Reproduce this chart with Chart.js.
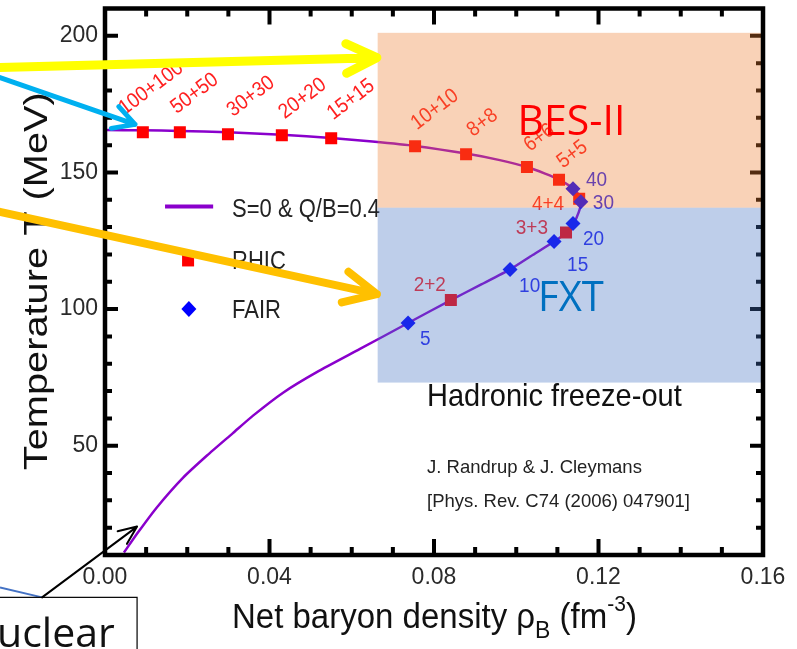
<!DOCTYPE html>
<html>
<head>
<meta charset="utf-8">
<script src="https://cdn.jsdelivr.net/npm/chart.js@4.4.1/dist/chart.umd.min.js"></script>
<style>
  html, body { margin: 0; padding: 0; background: #fff; }
  canvas { display: block; }
</style>
</head>
<body>
<canvas id="chart" width="797" height="649"></canvas>
<script>
/* ---------- data ---------- */
// freeze-out curve S=0 & Q/B=0.4, traced in path order
const curveRho = [0.0000, 0.0092, 0.0182, 0.0299, 0.0430, 0.0550, 0.0650, 0.0754, 0.0878, 0.0960, 0.1026, 0.1070, 0.1104, 0.1138, 0.1153, 0.1158, 0.1152, 0.1140, 0.1121, 0.1092, 0.1040, 0.0985, 0.0915, 0.0841, 0.0737, 0.0620, 0.0516, 0.0433, 0.0360, 0.0311, 0.0248, 0.0190, 0.0126, 0.0080, 0.0046];
const curveT   = [165.5, 165.4, 165.2, 164.7, 163.8, 162.6, 161.3, 159.7, 156.9, 154.5, 152.0, 149.6, 147.4, 144.2, 141.5, 139.3, 135.5, 131.5, 128.0, 124.7, 119.8, 114.5, 109.0, 103.3, 94.9, 85.4, 77.0, 69.4, 61.0, 54.6, 46.4, 38.3, 27.4, 18.2, 10.9];

// RHIC collider energies
const rhicLabels = ['100+100', '50+50', '30+30', '20+20', '15+15', '10+10', '8+8', '6+6', '5+5', '4+4', '3+3', '2+2'];
const rhicRho    = [0.0092, 0.0182, 0.0299, 0.0430, 0.0550, 0.0754, 0.0878, 0.1026, 0.1104, 0.1153, 0.1121, 0.0841];
const rhicT      = [164.7, 164.7, 164.0, 163.6, 162.5, 159.6, 156.7, 152.0, 147.3, 140.4, 128.0, 103.3];

// FAIR fixed-target energies
const fairLabels = ['40', '30', '20', '15', '10', '5'];
const fairRho    = [0.1138, 0.1157, 0.1138, 0.1092, 0.0985, 0.0737];
const fairT      = [144.0, 139.3, 131.3, 124.7, 114.5, 94.9];

// shaded regions (rho range, T range)
const besRho = [0.0663, 0.16], besT = [137.1, 201.1];
const fxtRho = [0.0663, 0.16], fxtT = [73.1, 137.1];

const xTickLabels = ['0.00', '0.04', '0.08', '0.12', '0.16'];
const yTickLabels = ['50', '100', '150', '200'];

/* ---------- layout / style ---------- */
const FONT = "'Liberation Sans', Arial, Helvetica, sans-serif";
const SLIDE_FONT = "'Open Sans', 'Noto Sans', sans-serif";
const PURPLE = '#8A00CC';

// label offsets from the marker: [dx, dy, rotation(deg), align]
const rhicLabelPos = [
  [-18, -17, -37, 'left'], [-3, -18, -37, 'left'], [5, -17, -37, 'left'], [3, -16, -37, 'left'],
  [2, -18, -37, 'left'], [2, -16, -37, 'left'], [7, -17, -37, 'left'], [3, -15, -37, 'left'],
  [4, -11, -37, 'left'], [-15, 11, 0, 'right'], [-18, 1, 0, 'right'], [-5, -9, 0, 'right']
];
const fairLabelPos = [[13, -3], [12, 7], [10, 21], [13, 29], [9, 23], [12, 22]];

function toXY(xs, ys) { return xs.map((x, i) => ({ x: x, y: ys[i] })); }

function stext(ctx, str, x, y, size, color, opts) {
  opts = opts || {};
  ctx.save();
  ctx.translate(x, y);
  if (opts.rot) ctx.rotate(opts.rot * Math.PI / 180);
  ctx.scale(opts.sx || 1, opts.sy || 1);
  ctx.font = (opts.weight || '') + ' ' + size + 'px ' + (opts.font || FONT);
  ctx.fillStyle = color;
  ctx.textAlign = opts.align || 'left';
  ctx.textBaseline = opts.baseline || 'alphabetic';
  ctx.fillText(str, 0, 0);
  ctx.restore();
}

function arrow(ctx, x0, y0, x1, y1, color, width, head, spread) {
  const ang = Math.atan2(y1 - y0, x1 - x0);
  ctx.save();
  ctx.strokeStyle = color;
  ctx.lineWidth = width;
  ctx.lineCap = 'round';
  ctx.lineJoin = 'round';
  ctx.beginPath();
  ctx.moveTo(x0, y0);
  ctx.lineTo(x1, y1);
  ctx.moveTo(x1 - head * Math.cos(ang - spread), y1 - head * Math.sin(ang - spread));
  ctx.lineTo(x1, y1);
  ctx.lineTo(x1 - head * Math.cos(ang + spread), y1 - head * Math.sin(ang + spread));
  ctx.stroke();
  ctx.restore();
}

const decor = {
  id: 'decor',
  afterDatasetsDraw(chart) {
    const ctx = chart.ctx, xs = chart.scales.x, ys = chart.scales.y, a = chart.chartArea;
    const px = v => xs.getPixelForValue(v), py = v => ys.getPixelForValue(v);

    // point labels
    rhicLabels.forEach((lab, i) => {
      const p = rhicLabelPos[i];
      stext(ctx, lab, px(rhicRho[i]) + p[0], py(rhicT[i]) + p[1], 19, '#FF2020', { rot: p[2], align: p[3], sy: 1.1 });
    });
    fairLabels.forEach((lab, i) => {
      const p = fairLabelPos[i];
      stext(ctx, lab, px(fairRho[i]) + p[0], py(fairT[i]) + p[1], 19, '#2424F0', { sy: 1.1 });
    });

    // legend
    const ltx = px(0.0309);
    const yLine = py(137.5), yRhic = py(117.8), yFair = py(100);
    ctx.save();
    ctx.strokeStyle = PURPLE; ctx.lineWidth = 4;
    ctx.beginPath(); ctx.moveTo(px(0.0146), yLine); ctx.lineTo(px(0.0263), yLine); ctx.stroke();
    ctx.fillStyle = '#FF0000';
    const sqx = px(0.0202);
    ctx.fillRect(sqx - 6, yRhic - 6, 12, 12);
    ctx.fillStyle = '#0000FF';
    const dmx = px(0.0204);
    ctx.beginPath(); ctx.moveTo(dmx, yFair - 8); ctx.lineTo(dmx + 7.5, yFair); ctx.lineTo(dmx, yFair + 8); ctx.lineTo(dmx - 7.5, yFair); ctx.closePath(); ctx.fill();
    ctx.restore();
    stext(ctx, 'S=0 & Q/B=0.4', ltx, yLine + 10, 22, '#222', { sy: 1.15 });
    stext(ctx, 'RHIC', ltx, yRhic + 9, 22, '#222', { sy: 1.15 });
    stext(ctx, 'FAIR', ltx, yFair + 9, 22, '#222', { sy: 1.15 });

    // ticks (inward) on all four sides
    ctx.save();
    ctx.strokeStyle = '#000';
    ctx.lineWidth = 4;
    ctx.beginPath();
    for (let k = 1; k < 16; k++) {
      const x = px(k / 100), len = k % 4 === 0 ? 16 : 8;
      ctx.moveTo(x, a.bottom); ctx.lineTo(x, a.bottom - len);
      ctx.moveTo(x, a.top); ctx.lineTo(x, a.top + len);
    }
    for (let t = 20; t <= 200; t += 10) {
      const y = py(t), len = t % 50 === 0 ? 13 : 7;
      ctx.moveTo(a.left, y); ctx.lineTo(a.left + len, y);
      ctx.moveTo(a.right, y); ctx.lineTo(a.right - len, y);
    }
    ctx.stroke();
    ctx.restore();

    // shaded regions (semi-transparent, on top)
    ctx.save();
    ctx.fillStyle = 'rgba(237,125,49,0.35)';
    ctx.fillRect(px(besRho[0]), py(besT[1]), px(besRho[1]) - px(besRho[0]) - 2, py(besT[0]) - py(besT[1]));
    ctx.fillStyle = 'rgba(68,114,196,0.35)';
    ctx.fillRect(px(fxtRho[0]), py(fxtT[1]), px(fxtRho[1]) - px(fxtRho[0]) - 2, py(fxtT[0]) - py(fxtT[1]));
    ctx.restore();

    // frame
    ctx.save();
    ctx.strokeStyle = '#000';
    ctx.lineWidth = 4.5;
    ctx.strokeRect(a.left, a.top, a.right - a.left, a.bottom - a.top);
    ctx.restore();

    // region labels
    stext(ctx, 'BES-II', px(0.1003), py(163.6), 41, '#FF0000', { font: SLIDE_FONT, sy: 1.03 });
    stext(ctx, 'FXT', px(0.1053), py(99.3), 40, '#0070C0', { font: SLIDE_FONT, sy: 1.05 });

    // annotations inside the plot
    stext(ctx, 'Hadronic freeze-out', px(0.0783), py(64.7), 29, '#111', { sy: 1.08 });
    stext(ctx, 'J. Randrup & J. Cleymans', px(0.0783), py(40), 18.5, '#222');
    stext(ctx, '[Phys. Rev. C74 (2006) 047901]', px(0.0783), py(27.5), 18.5, '#222');

    // axis titles
    ctx.save();
    ctx.translate(47, py(110.2));
    ctx.rotate(-Math.PI / 2);
    ctx.scale(1.17, 1);
    ctx.font = '34px ' + FONT;
    ctx.fillStyle = '#111';
    ctx.textAlign = 'center';
    ctx.fillText('Temperature T (MeV)', 0, 0);
    ctx.restore();

    ctx.save();
    let tx = 232;
    const base = 628;
    const part = (s, size, dy) => {
      ctx.font = size + 'px ' + FONT;
      ctx.save(); ctx.translate(tx, base + dy); ctx.scale(1, 1.08);
      ctx.fillStyle = '#111'; ctx.textAlign = 'left'; ctx.fillText(s, 0, 0); ctx.restore();
      tx += ctx.measureText(s).width;
    };
    part('Net baryon density \u03C1', 33, 0);
    part('B', 23, 10);
    part(' (fm', 33, 0);
    part('-3', 21, -17);
    part(')', 33, 0);
    ctx.restore();

    // slide overlay arrows
    arrow(ctx, 0, py(188.4), px(0.0661), py(192.0), '#FFFF00', 9, 34, 0.45);
    arrow(ctx, 0, py(184.7), px(0.0073), py(167.6), '#00B0F0', 5, 24, 0.5);
    arrow(ctx, 0, py(135.6), px(0.0661), py(105.5), '#FFC000', 8, 36, 0.45);

    // "nuclear" callout box
    const bx = px(0.0078), by = py(-5.5);
    ctx.save();
    ctx.strokeStyle = '#4472C4'; ctx.lineWidth = 2;
    ctx.beginPath(); ctx.moveTo(0, by - 10); ctx.lineTo(px(-0.0153), by); ctx.stroke();
    ctx.fillStyle = '#fff'; ctx.fillRect(-5, by, bx + 5, 80);
    ctx.strokeStyle = '#000'; ctx.lineWidth = 1.2; ctx.strokeRect(-5, by, bx + 5, 80);
    ctx.restore();
    arrow(ctx, px(-0.0153), by, px(0.0078), py(20.4), '#000', 2, 20, 0.4);
    stext(ctx, 'uclear', -3, by + 50, 41, '#111', { font: SLIDE_FONT });
  }
};

new Chart(document.getElementById('chart').getContext('2d'), {
  type: 'scatter',
  data: {
    datasets: [
      {
        label: 'FAIR',
        data: toXY(fairRho, fairT),
        pointStyle: 'rectRot',
        pointRadius: 7.5,
        pointBackgroundColor: '#0000FF',
        pointBorderWidth: 0,
        showLine: false,
        order: 1
      },
      {
        label: 'RHIC',
        data: toXY(rhicRho, rhicT),
        pointStyle: 'rect',
        pointRadius: 8.5,
        pointBackgroundColor: '#FF0000',
        pointBorderWidth: 0,
        showLine: false,
        order: 2
      },
      {
        label: 'S=0 & Q/B=0.4',
        data: toXY(curveRho, curveT),
        showLine: true,
        borderColor: PURPLE,
        borderWidth: 2.5,
        pointRadius: 0,
        tension: 0.2,
        fill: false,
        order: 3
      }
    ]
  },
  options: {
    responsive: false,
    animation: false,
    devicePixelRatio: 1,
    layout: { padding: { left: 0, top: 7, right: 34, bottom: 0 } },
    plugins: {
      legend: { display: false },
      tooltip: { enabled: false },
      title: { display: false }
    },
    scales: {
      x: {
        type: 'linear',
        min: 0,
        max: 0.16,
        grid: { display: false, drawTicks: false },
        border: { display: false },
        ticks: {
          stepSize: 0.01,
          autoSkip: false,
          maxRotation: 0,
          padding: 9,
          color: '#2a2a2a',
          font: { family: FONT, size: 23 },
          callback: v => {
            const k = Math.round(v * 100);
            return k % 4 === 0 ? xTickLabels[k / 4] : '';
          }
        },
        afterFit: s => { s.height = 94; s.paddingLeft = 0; s.paddingRight = 0; }
      },
      y: {
        type: 'linear',
        min: 10,
        max: 210,
        grid: { display: false, drawTicks: false },
        border: { display: false },
        ticks: {
          stepSize: 10,
          autoSkip: false,
          padding: 7,
          color: '#2a2a2a',
          font: { family: FONT, size: 23 },
          callback: v => yTickLabels.includes(String(v)) ? String(v) : ''
        },
        afterFit: s => { s.width = 105; s.paddingTop = 0; s.paddingBottom = 0; }
      }
    }
  },
  plugins: [decor]
});
</script>
</body>
</html>
